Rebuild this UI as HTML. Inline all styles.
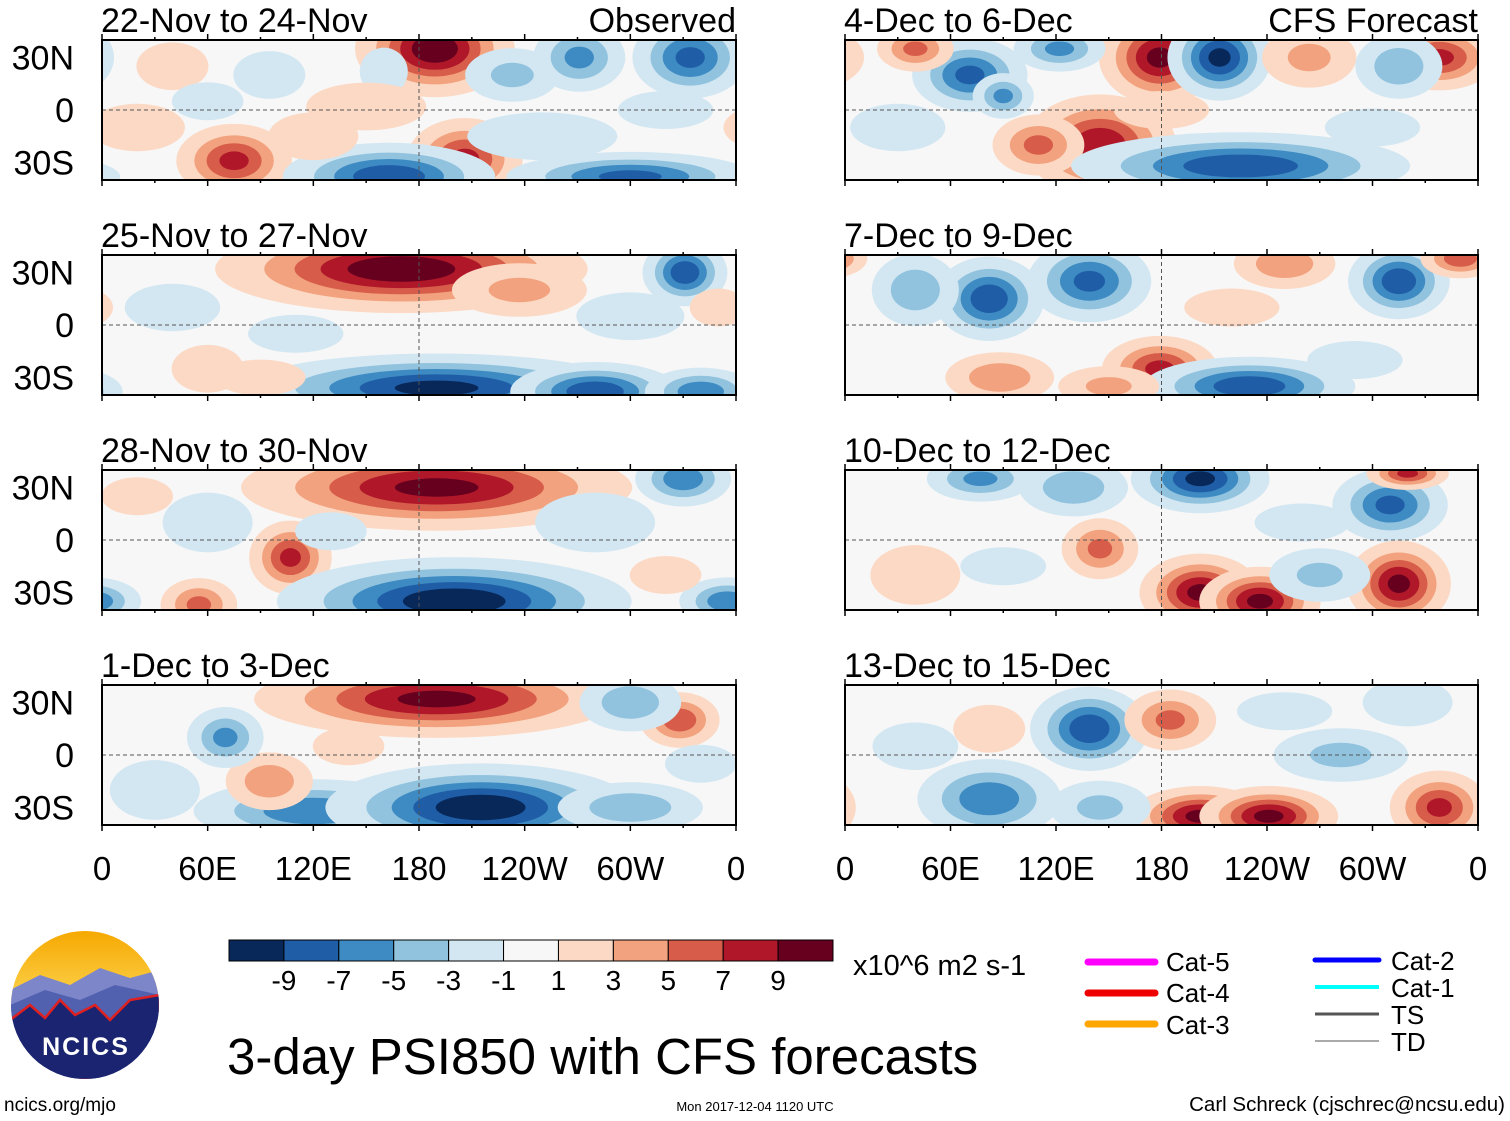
<!DOCTYPE html>
<html><head><meta charset="utf-8"><style>
body{margin:0;background:#fff;font-family:"Liberation Sans",sans-serif}
svg{display:block}
</style></head><body>
<svg id="chart" width="1510" height="1121" viewBox="0 0 1510 1121" xmlns="http://www.w3.org/2000/svg" font-family="Liberation Sans, sans-serif">
<defs>
<linearGradient id="sky" x1="0" y1="0" x2="0" y2="1"><stop offset="0" stop-color="#f6a800"/><stop offset="0.45" stop-color="#fbd04a"/><stop offset="1" stop-color="#fbe59a"/></linearGradient>
<clipPath id="logoclip"><circle cx="85" cy="1005" r="74"/></clipPath>
</defs>
<g id="panels"></g>
<g id="colorbar"></g>
<text x="853" y="975" font-size="29">x10^6 m2 s-1</text>
<g font-size="26">
<line x1="1088" y1="962" x2="1155" y2="962" stroke="#ff00ff" stroke-width="7" stroke-linecap="round"/><text x="1166" y="971">Cat-5</text>
<line x1="1088" y1="993" x2="1155" y2="993" stroke="#ee0000" stroke-width="7" stroke-linecap="round"/><text x="1166" y="1002">Cat-4</text>
<line x1="1088" y1="1024" x2="1155" y2="1024" stroke="#ffa500" stroke-width="7" stroke-linecap="round"/><text x="1166" y="1034">Cat-3</text>
<line x1="1315" y1="960" x2="1379" y2="960" stroke="#0000ff" stroke-width="5" stroke-linecap="round"/><text x="1391" y="970">Cat-2</text>
<line x1="1315" y1="987" x2="1379" y2="987" stroke="#00ffff" stroke-width="4"/><text x="1391" y="997">Cat-1</text>
<line x1="1315" y1="1014" x2="1379" y2="1014" stroke="#555" stroke-width="3"/><text x="1391" y="1024">TS</text>
<line x1="1315" y1="1041" x2="1379" y2="1041" stroke="#aaa" stroke-width="2"/><text x="1391" y="1051">TD</text>
</g>
<g clip-path="url(#logoclip)">
<rect x="10" y="930" width="150" height="150" fill="url(#sky)"/>
<path d="M10 990 L40 975 L70 985 L100 968 L130 978 L160 970 L160 1080 L10 1080Z" fill="#7d86c9"/>
<path d="M10 1005 L45 990 L80 1000 L115 985 L160 995 L160 1080 L10 1080Z" fill="#5260b0"/>
<path d="M10 1020 L30 1005 L45 1018 L60 1000 L75 1015 L95 1005 L110 1020 L130 1000 L160 995 L160 1080 L10 1080Z" fill="#1a2470" stroke="#e02020" stroke-width="2.5"/>
<text x="86" y="1055" font-size="25" font-weight="bold" fill="#fff" text-anchor="middle" letter-spacing="2">NCICS</text>
</g>
<text x="227" y="1074" font-size="51">3-day PSI850 with CFS forecasts</text>
<text x="4" y="1111" font-size="19">ncics.org/mjo</text>
<text x="755" y="1111" font-size="13" text-anchor="middle">Mon 2017-12-04 1120 UTC</text>
<text x="1505" y="1111" font-size="20.5" text-anchor="end">Carl Schreck (cjschrec@ncsu.edu)</text>
</svg>
<script>
const NS="http://www.w3.org/2000/svg";
const panelTitles=["22-Nov to 24-Nov","25-Nov to 27-Nov","28-Nov to 30-Nov","1-Dec to 3-Dec","4-Dec to 6-Dec","7-Dec to 9-Dec","10-Dec to 12-Dec","13-Dec to 15-Dec"];
const levels=[-9,-7,-5,-3,-1,1,3,5,7,9];
const binColors=["#08285a","#1f5da6","#3d8bc2","#91c3df","#d3e7f2","#f7f7f7","#fcd9c4","#f2a27e","#d75d4a","#b0182a","#67001f"];
const latTicks=["30N","0","30S"];
const latTickValues=[30,0,-30];
const lonTicks=["0","60E","120E","180","120W","60W","0"];
const lonTickValues=[0,60,120,180,240,300,360];
// blobs: [lon, lat, value, lonRadius, latRadius]
const blobs1=[[189,35,11,18,11],[233,20,-4,14,8],[160,22,-3,8,8],[75,-29,8,14,9],[206,-28,8,14,10],[163,-38,-9,25,8],[300,-38,-8,30,6],[271,30,-6,12,9],[334,30,-8,14,10],[95,20,-3,12,8],[150,2,3,20,8],[40,25,3,12,8],[250,-15,-3,25,8],[20,-10,2,20,10],[120,-15,3,15,8],[320,0,-2,20,8],[60,5,-2,15,8]];
const blobs2=[[170,32,11,42,10],[331,30,-9,10,8],[190,-36,-10,45,8],[280,-38,-9,20,7],[237,20,4,20,8],[340,-38,-7,14,6],[60,-25,3,12,8],[300,5,-3,18,8],[40,10,-2,20,10],[110,-5,-2,20,8],[350,10,2,12,8],[90,-30,3,15,6]];
const blobs3=[[190,30,10,45,10],[107,-10,8,10,9],[55,-37,6,10,7],[200,-35,-11,40,10],[330,35,-7,12,7],[355,-35,-7,12,6],[280,10,-3,20,10],[60,10,-3,15,10],[20,25,2,15,8],[320,-20,2,15,8],[130,5,-2,15,8]];
const blobs4=[[190,32,10,42,9],[328,20,7,10,7],[120,-32,-7,30,8],[215,-30,-11,35,10],[95,-15,5,12,8],[70,10,-6,10,8],[300,30,-5,14,8],[300,-30,-5,20,7],[30,-20,-3,15,10],[140,5,2,15,8],[340,-5,-2,15,8]];
const blobs5=[[179,30,10,14,11],[213,30,-10,12,10],[264,30,4,14,9],[71,20,-8,14,9],[90,8,-6,8,6],[145,-20,9,18,12],[110,-20,6,12,8],[225,-32,-9,40,8],[338,30,8,14,8],[315,25,-5,12,9],[122,35,-6,12,6],[40,35,6,10,6],[30,-10,-2,20,10],[300,-10,-2,20,8],[180,0,2,20,8]];
const blobs6=[[82,15,-9,13,10],[139,25,-8,15,10],[179,-25,8,14,8],[230,-35,-9,25,7],[250,35,5,14,7],[315,25,-9,12,9],[350,38,7,10,5],[88,-30,5,15,7],[40,20,-5,12,10],[150,-35,4,15,6],[290,-20,-2,20,8],[220,10,2,20,8]];
const blobs7=[[202,35,-10,16,8],[310,20,-8,14,9],[320,38,8,10,4],[202,-30,10,14,9],[236,-35,10,14,8],[315,-25,10,12,10],[145,-5,6,10,8],[77,35,-6,14,6],[130,30,-5,15,8],[270,-20,-4,15,8],[40,-20,3,15,10],[90,-15,-2,18,8],[260,10,-2,20,8]];
const blobs8=[[139,15,-9,14,10],[185,20,6,12,8],[202,-35,10,16,7],[241,-35,10,16,7],[338,-30,8,12,9],[82,-25,-7,18,10],[282,0,-4,20,8],[82,15,3,12,8],[145,-30,-4,15,8],[40,5,-2,18,10],[250,25,-2,20,8],[320,30,-3,15,8]];
const allBlobs=[blobs1,blobs2,blobs3,blobs4,blobs5,blobs6,blobs7,blobs8];
const radiusScale=1.15;

function colorFor(v){let i=0;while(i<levels.length&&v>levels[i])i++;return binColors[i];}
function el(tag,attrs,parent){const e=document.createElementNS(NS,tag);for(const k in attrs)e.setAttribute(k,attrs[k]);parent.appendChild(e);return e;}

const panelsG=document.getElementById('panels');
for(let p=0;p<8;p++){
  const col=p<4?0:1,row=p%4;
  const x0=col?845:102,x1=col?1478:736,y0=40+row*215,y1=y0+140;
  const xs=lon=>x0+(lon/360)*(x1-x0);
  const ys=lat=>y0+(40-lat)/80*(y1-y0);
  const g=el('g',{},panelsG);
  
  
  const cp=el('clipPath',{id:'cp'+p},g);
  el('rect',{x:x0,y:y0,width:x1-x0,height:y1-y0},cp);
  el('rect',{x:x0,y:y0,width:x1-x0,height:y1-y0,fill:'#f7f7f7'},g);
  const field=el('g',{'clip-path':'url(#cp'+p+')'},g);
  const bl=allBlobs[p];
  for(const b of bl){
    const [lon,lat,v,rl,rt]=b;const A=Math.abs(v),s=Math.sign(v);
    const thr=[1,3,5,7,9].filter(L=>L<A);
    for(const L of thr){
      const r=Math.sqrt(2*Math.log(A/L))*radiusScale;
      const val=s*(L+1);
      for(const sh of [-360,0,360]){
        const e=el('ellipse',{cx:xs(lon+sh),cy:ys(lat),rx:rl*r*(x1-x0)/360,ry:rt*r*(y1-y0)/80,fill:colorFor(val)},field);
        
        
      }
    }
  }
  el('line',{x1:x0,y1:ys(0),x2:x1,y2:ys(0),stroke:'#555','stroke-dasharray':'4 3','stroke-width':1},g);
  el('line',{x1:xs(180),y1:y0,x2:xs(180),y2:y1,stroke:'#555','stroke-dasharray':'4 3','stroke-width':1},g);
  el('rect',{x:x0,y:y0,width:x1-x0,height:y1-y0,fill:'none',stroke:'#000','stroke-width':2},g);
  for(let i=0;i<=12;i++){const tx=xs(i*30),len=i%2?3:6;
    el('line',{x1:tx,y1:y0,x2:tx,y2:y0-len,stroke:'#000','stroke-width':1.5},g);
    el('line',{x1:tx,y1:y1,x2:tx,y2:y1+len,stroke:'#000','stroke-width':1.5},g);}
  const t=el('text',{x:x0-1,y:y0-8,'font-size':34},g);t.textContent=panelTitles[p];
  
  
  if(row===0){const t2=el('text',{x:x1,y:y0-8,'font-size':34,'text-anchor':'end'},g);t2.textContent=col?'CFS Forecast':'Observed';
    
    }
  if(col===0){latTicks.forEach((lt,i)=>{const tt=el('text',{x:74,y:ys(latTickValues[i])+12,'font-size':34,'text-anchor':'end'},g);tt.textContent=lt;
    
    });}
  if(row===3){lonTicks.forEach((lt,i)=>{const tt=el('text',{x:xs(lonTickValues[i]),y:880,'font-size':33,'text-anchor':'middle'},g);tt.textContent=lt;
    
    });}
}
// colorbar
const cb=document.getElementById('colorbar');
const cbx=229,cbw=604/11;
binColors.forEach((c,i)=>{const r=el('rect',{x:cbx+i*cbw,y:940,width:cbw,height:21,fill:c,stroke:'#000','stroke-width':1},cb);
  
  });
levels.forEach((l,i)=>{const t=el('text',{x:cbx+(i+1)*cbw,y:990,'font-size':28,'text-anchor':'middle'},cb);t.textContent=l;
  
  });
</script>
</body></html>
